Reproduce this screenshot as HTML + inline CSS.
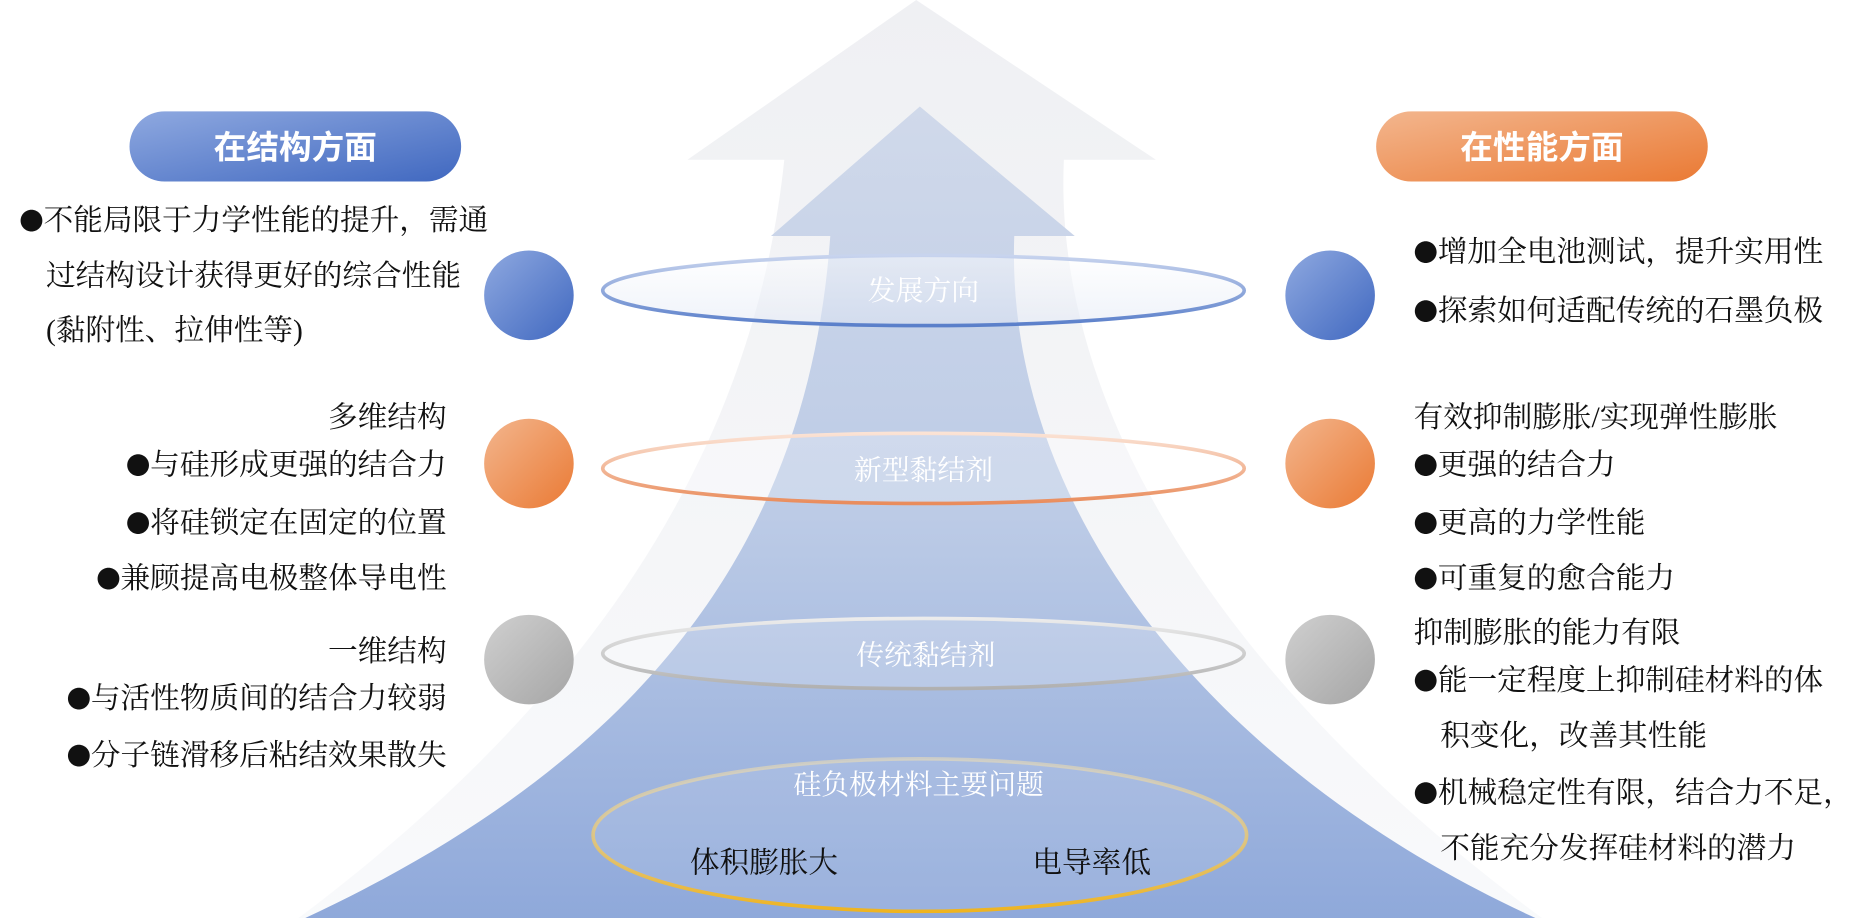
<!DOCTYPE html>
<html><head><meta charset="utf-8"><style>
html,body{margin:0;padding:0;background:#fff;}
svg{display:block;}
text{font-family:"Liberation Serif","Noto Serif CJK SC",serif;font-size:24.5px;fill:#111;}
.b{font-family:"Noto Sans CJK SC",sans-serif;font-size:20px;}
.w{fill:#fff;font-size:23px;}
.t{font-family:"Liberation Sans","Noto Sans CJK SC",sans-serif;font-size:27px;fill:#fff;font-weight:bold;}
</style></head><body>
<svg width="1876" height="918" viewBox="0 0 1550 758.5" preserveAspectRatio="none" xmlns="http://www.w3.org/2000/svg">
<defs>
<linearGradient id="outer" x1="0" y1="0" x2="0" y2="1">
<stop offset="0" stop-color="#eff0f3"/><stop offset="1" stop-color="#f8f9fb" stop-opacity="0.9"/></linearGradient>
<linearGradient id="inner" x1="0" y1="0" x2="0" y2="1">
<stop offset="0" stop-color="#d0d9ea"/><stop offset="0.5" stop-color="#bccbe6"/><stop offset="1" stop-color="#8ea8da"/></linearGradient>
<linearGradient id="bp" x1="0" y1="0" x2="1" y2="1"><stop offset="0" stop-color="#8fa9e0"/><stop offset="1" stop-color="#4068c0"/></linearGradient>
<linearGradient id="op" x1="0" y1="0" x2="1" y2="1"><stop offset="0" stop-color="#f3b68e"/><stop offset="1" stop-color="#ea7a34"/></linearGradient>
<linearGradient id="gp" x1="0" y1="0" x2="1" y2="1"><stop offset="0" stop-color="#d0d0d0"/><stop offset="1" stop-color="#a5a5a5"/></linearGradient>
<linearGradient id="fe" x1="0" y1="0" x2="0" y2="1"><stop offset="0" stop-color="#fff" stop-opacity="0.5"/><stop offset="1" stop-color="#dfe6f4" stop-opacity="0.5"/></linearGradient>
<linearGradient id="sb" x1="0" y1="0" x2="0" y2="1"><stop offset="0" stop-color="#c8d4ee"/><stop offset="1" stop-color="#5a7fca"/></linearGradient>
<linearGradient id="so" x1="0" y1="0" x2="0" y2="1"><stop offset="0" stop-color="#fbe3d5"/><stop offset="1" stop-color="#e98c5c"/></linearGradient>
<linearGradient id="sg" x1="0" y1="0" x2="0" y2="1"><stop offset="0" stop-color="#ececec"/><stop offset="1" stop-color="#b0b0b0"/></linearGradient>
<linearGradient id="sy" x1="0" y1="0" x2="0" y2="1"><stop offset="0" stop-color="#f6e2b0" stop-opacity="0.5"/><stop offset="1" stop-color="#efb420"/></linearGradient>
</defs>
<path d="M757 0 L955 132 L879 132 C870 330 1000 560 1283 765 L238 765 C460 600 620 400 648 132 L568 132 Z" fill="url(#outer)"/>
<path d="M760 88 L888 195 L838 195 C830 420 1000 640 1283 765 L238 765 C560 620 670 420 686 195 L637 195 Z" fill="url(#inner)"/>
<ellipse cx="763" cy="240" rx="265" ry="29" fill="url(#fe)" stroke="url(#sb)" stroke-width="3"/>
<ellipse cx="763" cy="387" rx="265" ry="29" fill="#fff" fill-opacity="0.25" stroke="url(#so)" stroke-width="3"/>
<ellipse cx="763" cy="540" rx="265" ry="29" fill="#fff" fill-opacity="0.2" stroke="url(#sg)" stroke-width="3"/>
<ellipse cx="760" cy="690" rx="270" ry="63" fill="#fff" fill-opacity="0.1" stroke="url(#sy)" stroke-width="3"/>
<text class="w" x="763" y="248" text-anchor="middle">发展方向</text>
<text class="w" x="763" y="396" text-anchor="middle">新型黏结剂</text>
<text class="w" x="765" y="549" text-anchor="middle">传统黏结剂</text>
<text class="w" x="759" y="656" text-anchor="middle">硅负极材料主要问题</text>
<text x="570" y="721">体积膨胀大</text>
<text x="853" y="721">电导率低</text>
<rect x="107" y="92" width="274" height="58" rx="29" fill="url(#bp)"/>
<text class="t" x="244" y="131" text-anchor="middle">在结构方面</text>
<rect x="1137" y="92" width="274" height="58" rx="29" fill="url(#op)"/>
<text class="t" x="1274" y="131" text-anchor="middle">在性能方面</text>
<circle cx="437" cy="244" r="37" fill="url(#bp)"/>
<circle cx="437" cy="383" r="37" fill="url(#op)"/>
<circle cx="437" cy="545" r="37" fill="url(#gp)"/>
<circle cx="1099" cy="244" r="37" fill="url(#bp)"/>
<circle cx="1099" cy="383" r="37" fill="url(#op)"/>
<circle cx="1099" cy="545" r="37" fill="url(#gp)"/>
<text x="16" y="190"><tspan class="b">●</tspan>不能局限于力学性能的提升，需通</text>
<text x="38" y="236">过结构设计获得更好的综合性能</text>
<text x="38" y="281">(黏附性、拉伸性等)</text>
<g text-anchor="end">
<text x="369" y="353">多维结构</text>
<text x="369" y="392"><tspan class="b">●</tspan>与硅形成更强的结合力</text>
<text x="369" y="440"><tspan class="b">●</tspan>将硅锁定在固定的位置</text>
<text x="369" y="486"><tspan class="b">●</tspan>兼顾提高电极整体导电性</text>
<text x="369" y="546">一维结构</text>
<text x="369" y="585"><tspan class="b">●</tspan>与活性物质间的结合力较弱</text>
<text x="369" y="632"><tspan class="b">●</tspan>分子链滑移后粘结效果散失</text>
</g>
<text x="1168" y="216"><tspan class="b">●</tspan>增加全电池测试，提升实用性</text>
<text x="1168" y="265"><tspan class="b">●</tspan>探索如何适配传统的石墨负极</text>
<text x="1168" y="353">有效抑制膨胀/实现弹性膨胀</text>
<text x="1168" y="392"><tspan class="b">●</tspan>更强的结合力</text>
<text x="1168" y="440"><tspan class="b">●</tspan>更高的力学性能</text>
<text x="1168" y="486"><tspan class="b">●</tspan>可重复的愈合能力</text>
<text x="1168" y="531">抑制膨胀的能力有限</text>
<text x="1168" y="570"><tspan class="b">●</tspan>能一定程度上抑制硅材料的体</text>
<text x="1190" y="616">积变化，改善其性能</text>
<text x="1168" y="663"><tspan class="b">●</tspan>机械稳定性有限，结合力不足，</text>
<text x="1190" y="709">不能充分发挥硅材料的潜力</text>
</svg>
</body></html>
